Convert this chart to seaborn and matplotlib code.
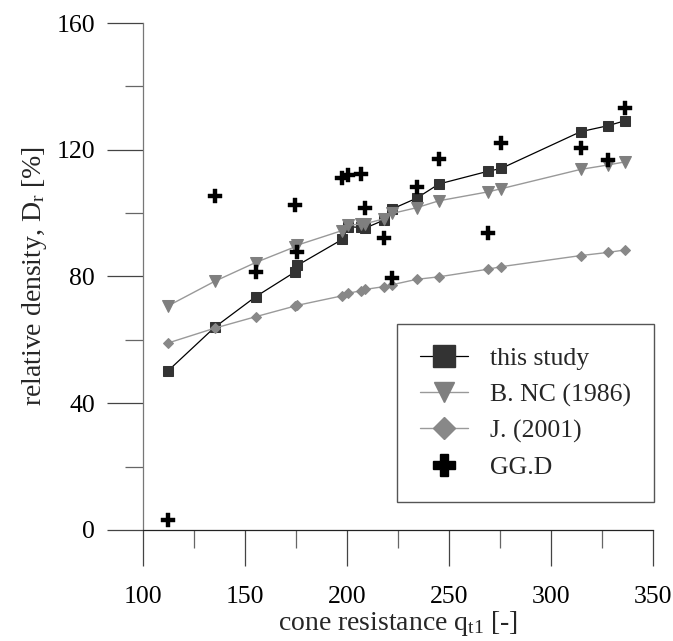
import matplotlib
matplotlib.use("Agg")
import matplotlib.pyplot as plt
from matplotlib.lines import Line2D
from matplotlib.ticker import MultipleLocator
import seaborn as sns
import pandas as pd

# ---- data ----
cone_resistance = [112, 135, 155, 174.5, 175.5, 197.5, 200.5, 206.5, 208.5,
                   218, 222, 234, 245, 269, 275.5, 314.5, 328, 336.5]
this_study = [50.2, 64.0, 73.6, 81.5, 83.5, 91.7, 95.7, 95.5, 95.2,
              97.8, 101.3, 104.7, 109.2, 113.2, 114.1, 125.7, 127.6, 129.2]
b_nc_1986 = [70.7, 78.5, 84.4, 89.4, 89.9, 94.5, 96.1, 96.6, 96.6,
             98.2, 99.9, 101.7, 103.9, 106.7, 107.7, 113.8, 115.2, 116.2]
j_2001 = [59.0, 63.7, 67.3, 70.7, 70.9, 73.9, 74.7, 75.5, 75.9,
          76.8, 77.4, 79.1, 79.9, 82.3, 83.1, 86.6, 87.6, 88.4]
gg_d = [3.2, 105.5, 81.5, 102.5, 87.8, 111.1, 112.0, 112.5, 101.5,
        92.2, 79.4, 108.1, 117.0, 93.6, 122.2, 120.4, 116.8, 133.1]
labels = ["this study", "B. NC (1986)", "J. (2001)", "GG.D"]

df = pd.DataFrame({"q": cone_resistance, "this": this_study, "bnc": b_nc_1986,
                   "j": j_2001, "ggd": gg_d})

sns.set_theme(style="white")
plt.rcParams["font.family"] = ["Liberation Serif", "DejaVu Serif"]
plt.rcParams["mathtext.fontset"] = "custom"
plt.rcParams["mathtext.rm"] = "Liberation Serif"
plt.rcParams["mathtext.it"] = "Liberation Serif:italic"

fig = plt.figure(figsize=(6.73, 6.41), dpi=100)
ax = fig.add_axes([0.2132, 0.1732, 0.757, 0.7909])

sq_col = "#333333"
tri_col = "#7f7f7f"
dia_col = "#888888"
tri_line = "#999999"
dia_line = "#9a9a9a"

sns.lineplot(data=df, x="q", y="this", ax=ax, estimator=None, sort=False,
             color="black", linewidth=0.9, marker="s", markersize=7.7,
             markerfacecolor=sq_col, markeredgecolor=sq_col, zorder=3)
sns.lineplot(data=df, x="q", y="bnc", ax=ax, estimator=None, sort=False,
             color=tri_line, linewidth=1.0, marker="v", markersize=8,
             markerfacecolor=tri_col, markeredgecolor=tri_col, zorder=4)
sns.lineplot(data=df, x="q", y="j", ax=ax, estimator=None, sort=False,
             color=dia_line, linewidth=1.0, marker="D", markersize=5.6,
             markerfacecolor=dia_col, markeredgecolor=dia_col, zorder=5)
sns.scatterplot(data=df, x="q", y="ggd", ax=ax, marker="P", s=115,
                color="black", edgecolor="black", linewidth=0.3, zorder=6)

ax.set_xlim(100, 350)
ax.set_ylim(0, 160)
ax.xaxis.set_major_locator(MultipleLocator(50))
ax.xaxis.set_minor_locator(MultipleLocator(25))
ax.yaxis.set_major_locator(MultipleLocator(40))
ax.yaxis.set_minor_locator(MultipleLocator(20))

for s in ["top", "right"]:
    ax.spines[s].set_visible(False)
ax.spines["left"].set_color("#777777")
ax.spines["bottom"].set_color("#222222")
for s in ["left", "bottom"]:
    ax.spines[s].set_linewidth(0.9)

ax.tick_params(axis="both", which="major", direction="out", length=26,
               width=0.9, color="#444444", pad=9, labelsize=18.5,
               labelcolor="black", left=True, bottom=True)
ax.tick_params(axis="both", which="minor", direction="out", length=13,
               width=0.9, color="#666666", left=True, bottom=True)
ax.tick_params(axis="x", which="major", pad=14)

ax.set_xlabel(r"cone resistance q$_\mathregular{t1}$ [-]", fontsize=20,
              labelpad=1)
ax.set_ylabel(r"relative density, D$_\mathregular{r}$ [%]", fontsize=20,
              labelpad=5)

handles = [
    Line2D([], [], color="black", linewidth=0.9, marker="s", markersize=15.5,
           markerfacecolor=sq_col, markeredgecolor=sq_col),
    Line2D([], [], color=tri_line, linewidth=1.0, marker="v", markersize=15,
           markerfacecolor=tri_col, markeredgecolor=tri_col),
    Line2D([], [], color=dia_line, linewidth=1.0, marker="D", markersize=11,
           markerfacecolor=dia_col, markeredgecolor=dia_col),
    Line2D([], [], color="black", linestyle="none", marker="P",
           markersize=15.5, markerfacecolor="black", markeredgecolor="black"),
]
leg = ax.legend(handles, labels, loc="upper left",
                bbox_to_anchor=(0.4975, 0.406), borderaxespad=0,
                fontsize=18.5, frameon=True, fancybox=False, framealpha=1,
                edgecolor="#555555", borderpad=0.9, labelspacing=0.5,
                handlelength=1.88, handletextpad=0.85)
leg.get_frame().set_linewidth(1.0)

fig.savefig("out.png", dpi=100, facecolor="white")
